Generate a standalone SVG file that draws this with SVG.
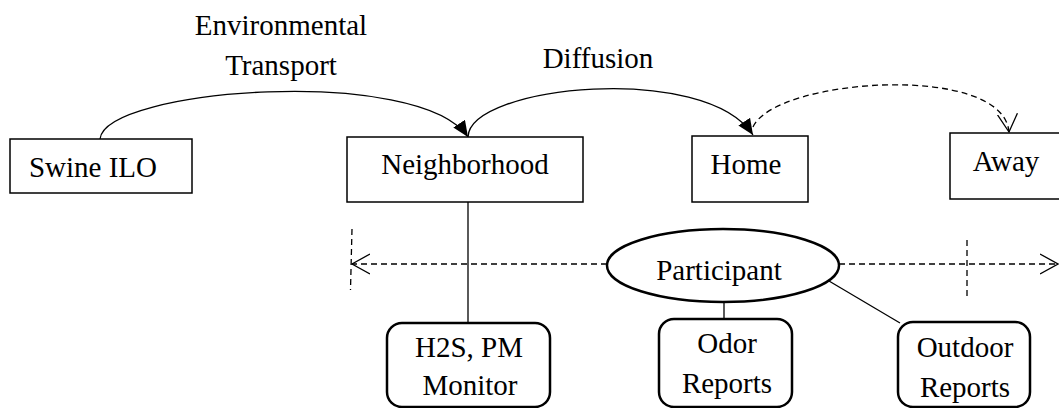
<svg xmlns="http://www.w3.org/2000/svg" width="1059" height="408" viewBox="0 0 1059 408">
<style>
  text { font-family: "Liberation Serif", "Times New Roman", serif; font-size: 29px; fill: #000; text-anchor: middle; }
  .box { fill: #fff; stroke: #000; stroke-width: 1.5; }
  .rbox { fill: #fff; stroke: #000; stroke-width: 2.5; }
  .line { fill: none; stroke: #000; stroke-width: 1.3; }
  .dash { fill: none; stroke: #000; stroke-width: 1.3; stroke-dasharray: 6 4; }
</style>
<defs>
  <marker id="filled" markerUnits="userSpaceOnUse" markerWidth="18" markerHeight="14" refX="16" refY="7" orient="auto">
    <path d="M0,0 L16,7 L0,14 Z" fill="#000"/>
  </marker>
  <marker id="open" markerUnits="userSpaceOnUse" markerWidth="20" markerHeight="22" refX="18" refY="11" orient="auto">
    <path d="M0,1 L18,11 L0,21" fill="none" stroke="#000" stroke-width="1.3"/>
  </marker>
</defs>
<rect width="1059" height="408" fill="#fff"/>

<g id="connectors">
  <path class="line" d="M100,139 C105,88 420,65 468,137" marker-end="url(#filled)"/>
  <path class="line" d="M468,137 C470,85 705,62 753,135" marker-end="url(#filled)"/>
  <path class="dash" d="M753,127 C775,78 1003,62 1009,132" marker-end="url(#open)"/>
  <line class="line" x1="468" y1="202" x2="468" y2="323"/>
  <line class="dash" x1="607" y1="264" x2="352" y2="264" marker-end="url(#open)"/>
  <line class="dash" x1="839" y1="264" x2="1058" y2="264" marker-end="url(#open)"/>
  <line class="dash" x1="352" y1="229" x2="350.5" y2="290"/>
  <line class="dash" x1="967" y1="240" x2="967" y2="300"/>
  <line class="line" x1="724" y1="302" x2="724" y2="318"/>
  <line class="line" x1="829" y1="281" x2="900" y2="323"/>
</g>

<g id="label-env">
  <text x="281" y="35">Environmental</text>
  <text x="281" y="75">Transport</text>
</g>
<g id="label-diffusion">
  <text x="598" y="68">Diffusion</text>
</g>

<g id="swine">
  <rect class="box" x="10" y="139" width="182" height="54"/>
  <text x="93" y="177">Swine ILO</text>
</g>
<g id="neighborhood">
  <rect class="box" x="347" y="137" width="236" height="65"/>
  <text x="465" y="174">Neighborhood</text>
</g>
<g id="home">
  <rect class="box" x="692" y="136" width="116" height="66"/>
  <text x="746" y="174">Home</text>
</g>
<g id="away">
  <rect class="box" x="950" y="133" width="120" height="66"/>
  <text x="1006" y="171">Away</text>
</g>
<g id="participant">
  <ellipse class="rbox" cx="723" cy="265.5" rx="116" ry="36.5"/>
  <text x="719" y="280">Participant</text>
</g>
<g id="monitor">
  <rect class="rbox" x="387" y="323" width="163" height="84" rx="15" ry="15"/>
  <text x="469" y="357">H2S, PM</text>
  <text x="470" y="395">Monitor</text>
</g>
<g id="odor">
  <rect class="rbox" x="659" y="319" width="133" height="88" rx="15" ry="15"/>
  <text x="727" y="353">Odor</text>
  <text x="727" y="393">Reports</text>
</g>
<g id="outdoor">
  <rect class="rbox" x="898" y="322" width="132" height="85" rx="15" ry="15"/>
  <text x="965" y="357">Outdoor</text>
  <text x="965" y="397">Reports</text>
</g>
</svg>
